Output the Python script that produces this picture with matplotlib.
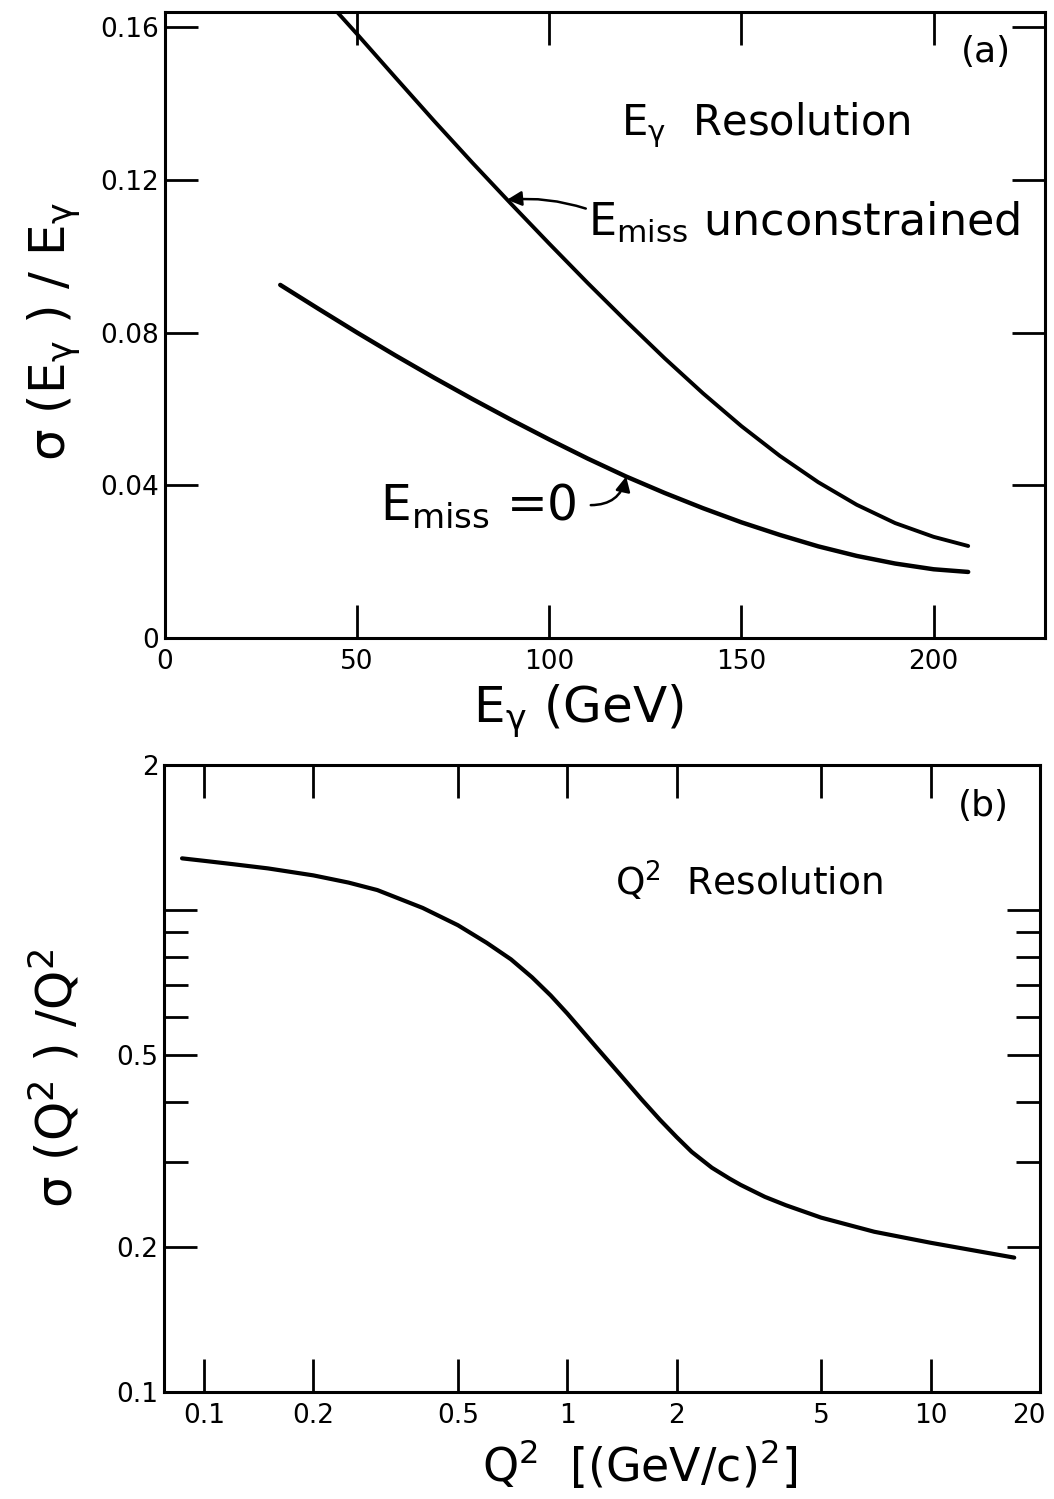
import matplotlib
matplotlib.use("Agg")
import matplotlib.pyplot as plt
from matplotlib.transforms import ScaledTranslation

plt.rcParams["font.family"] = ["DejaVu Sans"]
plt.rcParams["mathtext.default"] = "regular"

# (a) E_gamma resolution
e_unc = [44.8, 50, 60, 70, 80, 90, 100, 110, 120, 130, 140, 150, 160, 170, 180, 190, 200, 209]
res_unc = [0.164, 0.1582, 0.1468, 0.1355, 0.1245, 0.1138, 0.1033, 0.0930, 0.0830, 0.0733,
           0.0641, 0.0555, 0.0477, 0.0408, 0.0349, 0.0301, 0.0265, 0.0241]
e_zero = [30, 40, 50, 60, 70, 80, 90, 100, 110, 120, 130, 140, 150, 160, 170, 180, 190, 200, 209]
res_zero = [0.0925, 0.0862, 0.0800, 0.0740, 0.0682, 0.0626, 0.0572, 0.0520, 0.0470, 0.0423,
            0.0380, 0.0340, 0.0303, 0.0270, 0.0240, 0.0215, 0.0195, 0.0180, 0.0173]

# (b) Q^2 resolution
q2 = [0.087, 0.1, 0.12, 0.15, 0.2, 0.25, 0.3, 0.4, 0.5, 0.6, 0.7, 0.8, 0.9, 1.0, 1.2, 1.4,
      1.6, 1.8, 2.0, 2.2, 2.5, 2.8, 3.0, 3.5, 4.0, 5.0, 7.0, 10, 14, 17]
res_q2 = [1.28, 1.265, 1.245, 1.22, 1.18, 1.14, 1.10, 1.01, 0.93, 0.855, 0.79, 0.725, 0.665,
          0.61, 0.52, 0.455, 0.405, 0.367, 0.338, 0.315, 0.292, 0.277, 0.269, 0.254, 0.244,
          0.230, 0.215, 0.204, 0.195, 0.19]

xticks_a = [0, 50, 100, 150, 200]
yticks_a = [0, 0.04, 0.08, 0.12, 0.16]
yticklabels_a = ["0", "0.04", "0.08", "0.12", "0.16"]
xticks_b = [0.1, 0.2, 0.5, 1, 2, 5, 10, 20]
xticklabels_b = ["0.1", "0.2", "0.5", "1", "2", "5", "10", "20"]
yticks_b = [0.1, 0.2, 0.5, 1, 2]
yticklabels_b = ["0.1", "0.2", "0.5", "", "2"]
yminor_b = [0.3, 0.4, 0.6, 0.7, 0.8, 0.9]

fig = plt.figure(figsize=(10.54, 14.99), dpi=100)
ax1 = fig.add_axes([0.1565, 0.5744, 0.835, 0.4176])
ax2 = fig.add_axes([0.1556, 0.0714, 0.831, 0.4183])

lw = 2.8
for ax in (ax1, ax2):
    for s in ax.spines.values():
        s.set_linewidth(2.2)
    ax.tick_params(which="both", direction="in", top=True, right=True, width=2.0,
                   labelsize=19)
    ax.tick_params(which="major", length=24)
    ax.tick_params(which="minor", length=17)
    ax.tick_params(axis="y", pad=4)
    ax.tick_params(axis="x", pad=8)

# --- panel (a)
ax1.plot(e_unc, res_unc, color="black", lw=lw, solid_capstyle="round")
ax1.plot(e_zero, res_zero, color="black", lw=lw + 0.4, solid_capstyle="round")
ax1.set_xlim(0, 229)
ax1.set_ylim(0, 0.164)
ax1.set_xticks(xticks_a)
ax1.set_yticks(yticks_a)
ax1.set_yticklabels(yticklabels_a)

ax1.text(207, 0.151, "(a)", fontsize=26)
ax1.text(118.6, 0.1317, r"$E_{\gamma}$  Resolution", fontsize=30)
ax1.annotate("", xy=(89, 0.1148), xytext=(109.5, 0.1125),
             arrowprops=dict(arrowstyle="-|>", color="black", lw=1.8,
                             mutation_scale=22, shrinkA=0, shrinkB=0,
                             connectionstyle="arc3,rad=0.1"))
ax1.text(110, 0.1055, r"$E_{miss}$ unconstrained", fontsize=32, va="baseline")
ax1.annotate("", xy=(120, 0.0423), xytext=(110.8, 0.0348),
             arrowprops=dict(arrowstyle="-|>", color="black", lw=1.8,
                             mutation_scale=22, shrinkA=0, shrinkB=0,
                             connectionstyle="arc3,rad=0.4"))
ax1.text(107, 0.0309, r"$E_{miss}$ =0", fontsize=35, va="baseline", ha="right")

ax1.text(0.47, -0.118, r"$E_{\gamma}$ (GeV)", fontsize=36, transform=ax1.transAxes,
         ha="center", va="center")
ax1.text(-0.125, 0.49, r"$\sigma$ (E$_{\gamma}$ ) / E$_{\gamma}$", fontsize=36,
         transform=ax1.transAxes, ha="center", va="center", rotation=90)

# --- panel (b)
ax2.plot(q2, res_q2, color="black", lw=lw + 0.2, solid_capstyle="round")
ax2.set_xscale("log")
ax2.set_yscale("log")
ax2.set_xlim(0.0776, 20)
ax2.set_ylim(0.1, 2)
ax2.set_xticks(xticks_b)
ax2.set_xticklabels(xticklabels_b)
ax2.set_xticks([], minor=True)
ax2.set_yticks(yticks_b)
ax2.set_yticklabels(yticklabels_b)
ax2.set_yticks(yminor_b, minor=True)
ax2.set_yticklabels([], minor=True)

# keep the "20" label inside the figure
last = ax2.get_xticklabels()[-1]
last.set_transform(last.get_transform() + ScaledTranslation(-8 / 72, 0, fig.dpi_scale_trans))

ax2.text(11.9, 1.57, "(b)", fontsize=26)
ax2.text(1.35, 1.07, r"$Q^2$  Resolution", fontsize=27)

ax2.text(0.543, -0.116, r"$Q^2$  [(GeV/c)$^2$]", fontsize=33, transform=ax2.transAxes,
         ha="center", va="center")
ax2.text(-0.125, 0.50, r"$\sigma$ (Q$^2$ ) /Q$^2$", fontsize=36,
         transform=ax2.transAxes, ha="center", va="center", rotation=90)

fig.savefig("out.png", dpi=100)
